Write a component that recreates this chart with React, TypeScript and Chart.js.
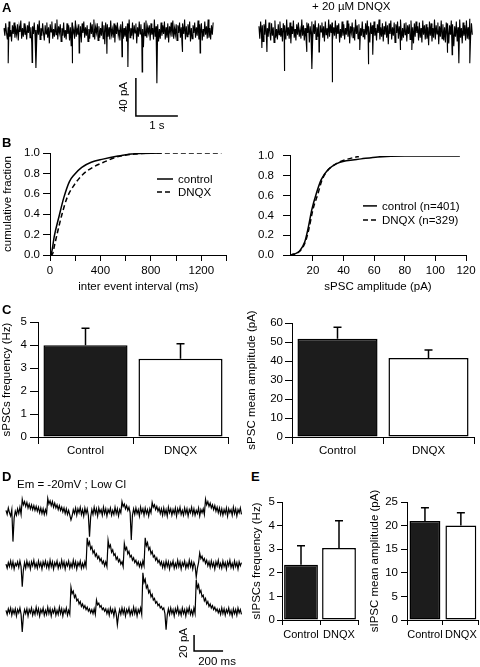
import React, { useEffect, useRef } from "react";
import { Chart, registerables } from "chart.js";

Chart.register(...registerables);

const FONT_FAMILY = '"Liberation Sans", Arial, Helvetica, sans-serif';
const FS = 11.5;
Chart.defaults.font.family = FONT_FAMILY;
Chart.defaults.color = "#000";

// ---------------- Panel A: sPSC traces (pA vs s) ----------------
const A_DT = 0.02;
const A_CONTROL_NOISE = [
  3, -5, 8, -2, -9, 4, 10, -6, 1, -11, 6, -3, 9, -7, 2, -4, 7, -10, 5, -1, 11, -8, 3, -6, 8,
  -4, 2, -9, 6, -2, 10, -7, 4, -12, 5, -3, 9, -6, 1, -8, 7, -4, 11, -9, 3, -5, 8, -2, -10, 6,
  -3, 9, -7, 4, -13, 7, -1, 10, -8, 2, -6, 8, -4, 12, -9, 5, -2, 7, -11, 3, -5, 9, -7, 1, -9,
  8, -3, 6, -10, 4, -16, 9, -5, 2, -8, 11, -6, 3, -4, 7, -9, 5, -12, 8, -2, 10, -7, 4, -5, 6,
  -11, 2, -8, 9, -3, 7, -6, 12, -9, 4, -2, 8, -10, 5, -7, 3, -5, 10, -8, 6, -14, 9, -1, 7, -6,
  4, -9, 11, -4, 2, -7, 8, -12, 6, -3, 9, -5, 1, -10, 7, -2, 10, -8, 3, -6, 5, -11, 8, -4, 12,
  -7, 3, -5, 9, -9, 6, -2, 8, -13, 4, -6, 10, -3, 7, -8, 2, -17, 9, -5, 11, -7, 4, -2, 6, -10,
  8, -4, 3, -9, 12, -6, 5, -1, 7, -11, 2, -8, 9, -5, 6, -3, 10, -9, 4, -7, 8, -12, 5, -2, 9,
  -6, 11, -8, 3, -4, 7, -10, 6, -2, 9, -7, 4, -15, 8, -3, 12, -9, 5, -6, 7, -4, 10, -11, 3, -8,
  6, -2, 9, -7, 4, -5, 11, -9, 7, -3, 8, -10, 2, -6, 10, -4, 5, -8, 12, -7, 3, -9, 6, -4, 9,
];
const A_CONTROL_EVENT_T = [0.1, 0.67, 0.76, 1.62, 1.79, 2.45, 2.81, 2.95, 3.29, 3.64, 4.24, 4.67];
const A_CONTROL_EVENT_AMP = [-34, -33, -39, -34, -23, -24, -27, -38, -43, -55, -22, -23];

const A_DNQX_START = 6.07;
const A_DNQX_NOISE = [
  5, -8, 10, -3, 6, -11, 7, -4, 12, -9, 3, -6, 9, -2, -10, 8, -5, 4, -12, 11, -7, 2, -9, 7, -4,
  10, -6, 3, -11, 8, -2, 6, -9, 12, -5, 4, -8, 9, -13, 5, -3, 11, -7, 2, -10, 7, -4, 9, -6, 1,
  -8, 12, -5, 6, -10, 3, -7, 9, -2, 8, -12, 5, -4, 10, -8, 7, -3, 11, -9, 4, -6, 8, -14, 6, -1,
  9, -7, 5, -11, 10, -4, 3, -8, 12, -6, 7, -2, 9, -10, 4, -5, 11, -8, 6, -3, 8, -12, 2, -7, 10,
  -5, 7, -9, 3, -4, 11, -6, 8, -13, 5, -2, 9, -7, 4, -10, 12, -3, 6, -8, 7, -11, 3, -5, 10, -6,
  2, -9, 8, -4, 11, -7, 5, -12, 9, -3, 6, -8, 10, -5, 3, -10, 7, -2, 12, -9, 4, -6, 8, -11, 5,
  -4, 10, -7, 6, -14, 8, -3, 11, -9, 4, -5, 9, -12, 7, -2, 10, -8, 5, -6, 12, -10, 3, -7, 8, -4,
  9, -11, 6, -3, 7, -9, 11, -5, 4, -13, 8, -6, 10, -2, 5, -10, 9, -7, 3, -12, 11, -4, 6, -9, 7,
  -8, 4, -15, 10, -5, 8, -11, 3, -7, 12, -9, 6, -3, 9, -14, 5, -6, 11, -8, 7, -10, 4, -12, 9, -5,
  8, -13, 6, -4, 11, -9, 7, -16, 5, -6, 10, -11, 4, -8, 12, -7, 3, -13, 9, -5, 6, -10, 11, -8, 4,
  -9, 13, -6, 8, -4,
];
const A_DNQX_EVENT_T = [0.07, 0.19, 0.6, 1.14, 1.26, 1.43, 1.74, 2.4, 2.6, 2.71, 3.36, 3.64, 4.48, 4.6, 4.76, 5.02];
const A_DNQX_EVENT_AMP = [-18, -22, -42, -22, -40, -22, -54, -20, -35, -25, -20, -20, -23, -25, -34, -34];

const A_SCALE_T0 = 3.14;
const A_SCALE_Y0 = -89.5;
const A_SCALE_AMP = 40; // pA
const A_SCALE_DUR = 1; // s

// ---------------- Panel B: cumulative distributions ----------------
const IEI_CONTROL_MS = [0, 12, 35, 74, 109, 154, 194, 252, 327, 420, 539, 645, 885];
const IEI_CONTROL_FRAC = [0, 0.02, 0.19, 0.39, 0.56, 0.72, 0.79, 0.86, 0.91, 0.94, 0.97, 0.99, 1.0];
const IEI_DNQX_MS = [0, 20, 35, 61, 93, 135, 194, 260, 340, 446, 526, 672, 885, 1360];
const IEI_DNQX_FRAC = [0, 0.01, 0.09, 0.23, 0.39, 0.56, 0.69, 0.79, 0.86, 0.92, 0.96, 0.99, 1.0, 1.0];
const IEI_TICKS = [0, 200, 400, 600, 800, 1000, 1200, 1400];

const AMP_CONTROL_PA = [5, 8, 11.3, 14.6, 16.7, 19.3, 22.2, 25.4, 29.8, 35.2, 41.7, 51.5, 62.4, 80, 116];
const AMP_CONTROL_FRAC = [0, 0.01, 0.04, 0.13, 0.26, 0.46, 0.62, 0.76, 0.86, 0.92, 0.95, 0.97, 0.99, 1.0, 1.0];
const AMP_DNQX_PA = [5, 8, 11.5, 15, 17.3, 20, 23.3, 26, 30, 35, 41, 47, 50];
const AMP_DNQX_FRAC = [0, 0.01, 0.04, 0.13, 0.26, 0.46, 0.62, 0.76, 0.86, 0.92, 0.96, 0.985, 0.995];
const AMP_TICKS = [20, 40, 60, 80, 100, 120];
const FRAC_TICKS = [0, 0.2, 0.4, 0.6, 0.8, 1.0];

// ---------------- Panels C and E: bar charts ----------------
const GROUPS = ["Control", "DNQX"];
const SPSC_FREQ_MEAN = [3.99, 3.4];
const SPSC_FREQ_SEM = [0.74, 0.65];
const SPSC_AMP_MEAN = [51.7, 41.6];
const SPSC_AMP_SEM = [6.1, 4.2];
const SIPSC_FREQ_MEAN = [2.34, 3.05];
const SIPSC_FREQ_SEM = [0.81, 1.16];
const SIPSC_AMP_MEAN = [21.0, 20.0];
const SIPSC_AMP_SEM = [2.8, 2.7];

// ---------------- Panel D: sIPSC traces at -20 mV ----------------
const D_DT = 0.008;
const D_TRACE_1 = [
  2, -3, 5, -1, -5, 3, -37, -8, 1, -4, 4, -2, 6, -3, 16, 9, 13,
  7, 12, 5, 10, 4, 9, 3, 8, 2, 7, 1, 6, -1, 5, -2, 4, -3,
  3, -2, 17, 10, 14, 8, 13, 6, 11, 5, 9, 3, 8, 2, 6, 0, 5,
  -2, 4, -3, 2, -4, -10, -5, 3, -2, 5, -4, 4, -1, 6, -3, 3, -5,
  5, -2, 4, -4, -31, -6, 3, -3, 6, -2, 4, -5, 5, -1, 3, -4, 6,
  -2, 4, -5, 3, -1, 5, -4, 2, -3, 6, -2, 4, -5, 3, -1, 13, 7,
  10, 4, 8, 2, 6, -1, -35, -4, 4, -3, 5, -2, 3, -5, 6, -1, 4,
  -4, 5, -2, 3, -5, 4, -1, 12, 6, 9, 3, 7, 1, 5, -2, 4, -4,
  5, -3, 3, -5, 6, -1, 4, -4, 3, -2, 5, -5, 4, -1, 6, -3, 2,
  -4, 5, -2, 4, -5, 3, -1, 6, -3, 4, -4, 2, -2, 5, -5, 3, -1,
  4, -3, 16, 9, 13, 7, 11, 5, 9, 3, 8, 1, 6, -1, 5, -3, 4,
  -4, 3, -2, 5, -5, 4, -1, 3, -4, 6, -2, 4, -5, 3, -1, 5, -3,
];
const D_TRACE_2 = [
  1, -4, 3, -2, 5, -3, 4, -5, 2, -1, 4, -3, 5, -2, -27, -6, 3,
  -4, 5, -2, 3, -5, 4, -1, 6, -3, 2, -4, 5, -2, 3, -5, 4, -1,
  5, -3, 3, -4, 6, -2, 4, -5, 3, -1, 5, -4, 2, -3, 6, -2, 4,
  -5, 3, -1, 5, -4, 2, -3, 6, -2, 4, -5, 3, -1, 5, -4, 2, -3,
  4, -2, 34, 25, 29, 20, 23, 15, 18, 11, 14, 8, 11, 5, 8, 2, 5,
  -1, 4, -2, 31, 22, 25, 16, 19, 12, 14, 7, 10, 4, 7, 1, 4, -2,
  27, 19, 22, 14, 17, 10, 12, 6, 9, 3, 6, 0, 4, -2, 3, -3, 5,
  -1, 34, 24, 28, 19, 22, 14, 17, 10, 12, 6, 9, 3, 6, 0, 4, -3,
  3, -4, 5, -2, 4, -5, 3, -1, 5, -4, 2, -3, 6, -2, 4, -5, 3,
  -1, 5, -4, 2, -3, 6, -2, 4, -5, 3, -1, -15, -4, 3, 15, 8, 11,
  5, 8, 2, 6, -1, 4, -3, 5, -2, 3, -5, 4, -1, 6, -3, 2, -4,
  5, -2, 3, -5, 4, -1, 6, -3, 2, -4, 5, -2, 3, -5, 4, -1, 3,
];
const D_TRACE_3 = [
  2, -3, 4, -1, 5, -4, 3, -2, 4, -5, 3, -1, 5, -3, -25, -5, 3,
  -2, 4, -5, 3, -1, 5, -4, 2, -3, 6, -2, 4, -5, 3, -1, 5, -4,
  2, -3, 6, -2, 4, -5, 3, -1, 5, -4, 2, -3, 6, -2, 4, -5, 3,
  -1, 5, -4, 2, -3, 31, 23, 26, 18, 21, 14, 16, 10, 13, 7, 10, 5,
  8, 3, 6, 1, 4, -1, 3, -2, 4, -3, 15, 9, 11, 6, 8, 3, 5,
  1, 4, -2, 3, -4, 5, -1, 3, -5, 4, -2, -16, -4, 3, -3, 5, -2,
  4, -5, 3, -1, 5, -4, 2, -3, 6, -2, 4, -5, 3, -1, 5, -3, 49,
  37, 41, 30, 33, 24, 27, 19, 22, 15, 17, 11, 13, 8, 10, 5, 7, 3,
  5, -2, -22, -4, 4, -3, 5, -2, 3, -5, 4, -1, 6, -3, 2, -4, 5,
  -2, 3, -5, 4, -1, 6, -3, 2, -4, 5, -2, 40, 30, 34, 24, 27, 19,
  21, 14, 17, 10, 13, 7, 10, 5, 8, 3, 6, 1, 4, -1, 3, -3, 5,
  -2, 4, -4, 3, -1, 5, -3, 2, -5, 4, -2, 3, -4, 5, -1, 3, -3,
];
const D_OFFSETS = [125, 58.75, 0];
const D_SCALE_T0 = 1.297;
const D_SCALE_Y0 = -48.75;
const D_SCALE_AMP = 20; // pA
const D_SCALE_DUR = 0.2; // s

// ---------------- helpers ----------------
type Pt = { x: number; y: number };

function buildTrace(noise: number[], dt: number, start: number, evT: number[] = [], evA: number[] = [], offset = 0): Pt[] {
  const pts: Pt[] = noise.map((v, i) => ({ x: start + i * dt, y: v + offset }));
  evT.forEach((t, k) => pts.push({ x: start + t, y: evA[k] + offset }));
  pts.sort((a, b) => a.x - b.x);
  return pts;
}

function scaleBar(t0: number, y0: number, amp: number, dur: number): Pt[] {
  return [
    { x: t0, y: y0 + amp },
    { x: t0, y: y0 },
    { x: t0 + dur, y: y0 },
  ];
}

const font = (size = FS, weight: any = "normal") => ({ family: FONT_FAMILY, size, weight });

const errorBarPlugin = {
  id: "errorBars",
  afterDatasetsDraw(chart: any) {
    const ctx = chart.ctx;
    const yScale = chart.scales.y;
    chart.data.datasets.forEach((ds: any, di: number) => {
      const errs: number[] | undefined = ds.errors;
      if (!errs) return;
      const meta = chart.getDatasetMeta(di);
      meta.data.forEach((bar: any, i: number) => {
        const v = ds.data[i];
        const top = yScale.getPixelForValue(v);
        const e = yScale.getPixelForValue(v + errs[i]);
        ctx.save();
        ctx.strokeStyle = "#000";
        ctx.lineWidth = 1.5;
        ctx.beginPath();
        ctx.moveTo(bar.x, top);
        ctx.lineTo(bar.x, e);
        ctx.moveTo(bar.x - 4, e);
        ctx.lineTo(bar.x + 4, e);
        ctx.stroke();
        ctx.restore();
      });
    });
  },
};

const inlineLegendPlugin = {
  id: "inlineLegend",
  afterDraw(chart: any, _args: any, opts: any) {
    const { ctx, chartArea } = chart;
    const x0 = chartArea.left + opts.dx;
    const y0 = chartArea.top + opts.dy;
    chart.data.datasets.forEach((ds: any, i: number) => {
      const y = y0 + i * opts.rowGap;
      ctx.save();
      ctx.strokeStyle = "#000";
      ctx.lineWidth = ds.borderWidth;
      ctx.setLineDash(ds.borderDash || []);
      ctx.beginPath();
      ctx.moveTo(x0, y);
      ctx.lineTo(x0 + opts.lineLen, y);
      ctx.stroke();
      ctx.setLineDash([]);
      ctx.fillStyle = "#000";
      ctx.font = `${FS}px ${FONT_FAMILY}`;
      ctx.textAlign = "left";
      ctx.textBaseline = "middle";
      ctx.fillText(ds.label, x0 + opts.lineLen + opts.textGap, y + 0.5);
      ctx.restore();
    });
  },
};

const traceLabelPlugin = {
  id: "traceLabels",
  afterDraw(chart: any, _args: any, opts: any) {
    const { ctx } = chart;
    const xs = chart.scales.x;
    const ys = chart.scales.y;
    (opts.items || []).forEach((it: any) => {
      const px = xs.getPixelForValue(it.x) + (it.dx || 0);
      const py = ys.getPixelForValue(it.y) + (it.dy || 0);
      ctx.save();
      ctx.translate(px, py);
      if (it.rot) ctx.rotate(it.rot);
      ctx.font = `${FS}px ${FONT_FAMILY}`;
      ctx.fillStyle = "#000";
      ctx.textAlign = "center";
      ctx.textBaseline = "middle";
      ctx.fillText(it.text, 0, 0);
      ctx.restore();
    });
  },
};

function linAxis(o: {
  pos: "left" | "bottom";
  min: number;
  max: number;
  ticks: number[];
  fmt: (v: number) => string;
  size: number;
  tickLen: number;
  pad: number;
  title?: string;
  titlePad?: number;
}) {
  return {
    type: "linear",
    position: o.pos,
    min: o.min,
    max: o.max,
    afterFit: (s: any) => {
      if (o.pos === "left") s.width = o.size;
      else s.height = o.size;
    },
    afterBuildTicks: (s: any) => {
      s.ticks = o.ticks.map((v) => ({ value: v }));
    },
    grid: { display: true, drawOnChartArea: false, drawTicks: true, tickLength: o.tickLen, color: "#000", lineWidth: 1 },
    border: { display: true, color: "#000", width: 1 },
    ticks: { color: "#000", font: font(), padding: o.pad, maxRotation: 0, autoSkip: false, callback: (v: any) => o.fmt(Number(v)) },
    title: {
      display: !!o.title,
      text: o.title || "",
      color: "#000",
      font: font(),
      padding: o.pos === "left" ? { top: o.titlePad ?? 0, bottom: 0 } : { top: 0, bottom: o.titlePad ?? 0 },
    },
  };
}

function catAxis(o: { size: number; tickLen: number; pad: number; fontSize: number }) {
  return {
    type: "category",
    position: "bottom",
    offset: true,
    afterFit: (s: any) => {
      s.height = o.size;
    },
    grid: { display: true, offset: true, drawOnChartArea: false, drawTicks: true, tickLength: o.tickLen, color: "#000", lineWidth: 1 },
    border: { display: true, color: "#000", width: 1 },
    ticks: { color: "#000", font: font(o.fontSize), padding: o.pad, maxRotation: 0, autoSkip: false },
  };
}

const BAR_FILLS = ["#1c1c1c", "#ffffff"];

function barConfig(o: {
  means: number[];
  errs: number[];
  yMax: number;
  yTicks: number[];
  yTitle: string;
  yW: number;
  xH: number;
  padTop: number;
  padRight: number;
  yTickLen: number;
  yPad: number;
  titlePad: number;
  xTickLen: number;
  xPad: number;
  xFont: number;
  barPct: number;
}) {
  return {
    type: "bar",
    data: {
      labels: GROUPS,
      datasets: [
        {
          data: o.means,
          errors: o.errs,
          backgroundColor: BAR_FILLS,
          borderColor: "#000",
          borderWidth: 1.5,
          borderSkipped: false,
          barPercentage: o.barPct,
          categoryPercentage: 1,
        },
      ],
    },
    options: {
      animation: false,
      responsive: false,
      maintainAspectRatio: false,
      layout: { padding: { top: o.padTop, right: o.padRight, left: 0, bottom: 0 } },
      plugins: { legend: { display: false }, tooltip: { enabled: false } },
      scales: {
        x: catAxis({ size: o.xH, tickLen: o.xTickLen, pad: o.xPad, fontSize: o.xFont }),
        y: linAxis({
          pos: "left",
          min: 0,
          max: o.yMax,
          ticks: o.yTicks,
          fmt: (v) => String(v),
          size: o.yW,
          tickLen: o.yTickLen,
          pad: o.yPad,
          title: o.yTitle,
          titlePad: o.titlePad,
        }),
      },
    },
    plugins: [errorBarPlugin],
  };
}

function cdfDatasets(cx: number[], cy: number[], dx: number[], dy: number[], labels: [string, string]) {
  return [
    {
      label: labels[0],
      data: cx.map((x, i) => ({ x, y: cy[i] })),
      borderColor: "#000",
      borderWidth: 1.5,
      pointRadius: 0,
      cubicInterpolationMode: "monotone",
      fill: false,
    },
    {
      label: labels[1],
      data: dx.map((x, i) => ({ x, y: dy[i] })),
      borderColor: "#000",
      borderWidth: 1.5,
      borderDash: [5, 3],
      pointRadius: 0,
      cubicInterpolationMode: "monotone",
      fill: false,
    },
  ];
}

function cdfConfig(o: {
  datasets: any[];
  xMin: number;
  xMax: number;
  xTicks: number[];
  xFmt: (v: number) => string;
  xTitle: string;
  yTitle?: string;
  yW: number;
  xH: number;
  padTop: number;
  padRight: number;
  yTickLen: number;
  yPad: number;
  yTitlePad: number;
  xTitlePad: number;
  legend: any;
}) {
  return {
    type: "line",
    data: { datasets: o.datasets },
    options: {
      animation: false,
      responsive: false,
      maintainAspectRatio: false,
      layout: { padding: { top: o.padTop, right: o.padRight, left: 0, bottom: 0 } },
      plugins: { legend: { display: false }, tooltip: { enabled: false }, inlineLegend: o.legend },
      scales: {
        x: linAxis({
          pos: "bottom",
          min: o.xMin,
          max: o.xMax,
          ticks: o.xTicks,
          fmt: o.xFmt,
          size: o.xH,
          tickLen: 6,
          pad: 3,
          title: o.xTitle,
          titlePad: o.xTitlePad,
        }),
        y: linAxis({
          pos: "left",
          min: 0,
          max: 1,
          ticks: FRAC_TICKS,
          fmt: (v) => v.toFixed(1),
          size: o.yW,
          tickLen: o.yTickLen,
          pad: o.yPad,
          title: o.yTitle,
          titlePad: o.yTitlePad,
        }),
      },
    },
    plugins: [inlineLegendPlugin],
  };
}

function traceConfig(o: { datasets: any[]; xMin: number; xMax: number; yMin: number; yMax: number; labels: any[] }) {
  return {
    type: "line",
    data: { datasets: o.datasets },
    options: {
      animation: false,
      responsive: false,
      maintainAspectRatio: false,
      layout: { padding: 0 },
      plugins: { legend: { display: false }, tooltip: { enabled: false }, traceLabels: { items: o.labels } },
      scales: {
        x: { type: "linear", display: false, min: o.xMin, max: o.xMax },
        y: { type: "linear", display: false, min: o.yMin, max: o.yMax },
      },
    },
    plugins: [traceLabelPlugin],
  };
}

const traceDs = (data: Pt[], width = 1, color = "#000") => ({
  data,
  borderColor: color,
  borderWidth: width,
  pointRadius: 0,
  tension: 0,
  fill: false,
});

// ---------------- configs ----------------
function makeA() {
  return traceConfig({
    datasets: [
      traceDs(buildTrace(A_CONTROL_NOISE, A_DT, 0, A_CONTROL_EVENT_T, A_CONTROL_EVENT_AMP), 1.1, "#000"),
      traceDs(buildTrace(A_DNQX_NOISE, A_DT, A_DNQX_START, A_DNQX_EVENT_T, A_DNQX_EVENT_AMP), 1.1, "#000"),
      traceDs(scaleBar(A_SCALE_T0, A_SCALE_Y0, A_SCALE_AMP, A_SCALE_DUR), 1.5),
    ],
    xMin: -4 / 42,
    xMax: -4 / 42 + 480 / 42,
    yMin: 31 / 0.95 - 135 / 0.95,
    yMax: 31 / 0.95,
    labels: [
      { text: `${A_SCALE_AMP} pA`, x: A_SCALE_T0, y: A_SCALE_Y0 + A_SCALE_AMP / 2, dx: -12, dy: 0, rot: -Math.PI / 2 },
      { text: `${A_SCALE_DUR} s`, x: A_SCALE_T0 + A_SCALE_DUR / 2, y: A_SCALE_Y0, dx: 0, dy: 10 },
    ],
  });
}

function makeD() {
  const traces = [D_TRACE_1, D_TRACE_2, D_TRACE_3];
  return traceConfig({
    datasets: [
      ...traces.map((t, k) => traceDs(buildTrace(t, D_DT, 0, [], [], D_OFFSETS[k]), 1.2, "#000")),
      traceDs(scaleBar(D_SCALE_T0, D_SCALE_Y0, D_SCALE_AMP, D_SCALE_DUR), 1.5),
    ],
    xMin: -6 / 145,
    xMax: -6 / 145 + 250 / 145,
    yMin: 127 / 0.8 - 182 / 0.8,
    yMax: 127 / 0.8,
    labels: [
      { text: `${D_SCALE_AMP} pA`, x: D_SCALE_T0, y: D_SCALE_Y0 + D_SCALE_AMP / 2, dx: -10, dy: 0, rot: -Math.PI / 2 },
      { text: `${Math.round(D_SCALE_DUR * 1000)} ms`, x: D_SCALE_T0 + D_SCALE_DUR / 2, y: D_SCALE_Y0, dx: 8.5, dy: 11 },
    ],
  });
}

function makeBLeft() {
  return cdfConfig({
    datasets: cdfDatasets(IEI_CONTROL_MS, IEI_CONTROL_FRAC, IEI_DNQX_MS, IEI_DNQX_FRAC, ["control", "DNQX"]),
    xMin: 0,
    xMax: 1400,
    xTicks: IEI_TICKS,
    xFmt: (v) => (v % 400 === 0 && v < 1400 ? String(v) : ""),
    xTitle: "inter event interval (ms)",
    yTitle: "cumulative fraction",
    yW: 50,
    xH: 45,
    padTop: 13,
    padRight: 13.5,
    yTickLen: 7,
    yPad: 3,
    yTitlePad: 1,
    xTitlePad: 6,
    legend: { dx: 107, dy: 26, rowGap: 13, lineLen: 16, textGap: 5 },
  });
}

function makeBRight() {
  return cdfConfig({
    datasets: cdfDatasets(AMP_CONTROL_PA, AMP_CONTROL_FRAC, AMP_DNQX_PA, AMP_DNQX_FRAC, ["control (n=401)", "DNQX (n=329)"]),
    xMin: 5,
    xMax: 120,
    xTicks: AMP_TICKS,
    xFmt: (v) => String(v),
    xTitle: "sPSC amplitude (pA)",
    yW: 50,
    xH: 45,
    padTop: 15,
    padRight: 14,
    yTickLen: 7,
    yPad: 9,
    yTitlePad: 0,
    xTitlePad: 6,
    legend: { dx: 73, dy: 50, rowGap: 14, lineLen: 14, textGap: 5 },
  });
}

const makeCLeft = () =>
  barConfig({
    means: SPSC_FREQ_MEAN,
    errs: SPSC_FREQ_SEM,
    yMax: 5,
    yTicks: [0, 1, 2, 3, 4, 5],
    yTitle: "sPSCs frequency (Hz)",
    yW: 38,
    xH: 23,
    padTop: 22,
    padRight: 12,
    yTickLen: 8,
    yPad: 3,
    titlePad: 0,
    xTickLen: 7,
    xPad: 0,
    xFont: FS,
    barPct: 0.885,
  });

const makeCRight = () =>
  barConfig({
    means: SPSC_AMP_MEAN,
    errs: SPSC_AMP_SEM,
    yMax: 60,
    yTicks: [0, 10, 20, 30, 40, 50, 60],
    yTitle: "sPSC mean amplitude (pA)",
    yW: 52,
    xH: 23,
    padTop: 23,
    padRight: 6,
    yTickLen: 7,
    yPad: 2,
    titlePad: 5,
    xTickLen: 7,
    xPad: 0,
    xFont: FS,
    barPct: 0.88,
  });

const makeELeft = () =>
  barConfig({
    means: SIPSC_FREQ_MEAN,
    errs: SIPSC_FREQ_SEM,
    yMax: 5,
    yTicks: [0, 1, 2, 3, 4, 5],
    yTitle: "sIPSCs frequency (Hz)",
    yW: 32,
    xH: 30,
    padTop: 12,
    padRight: 7,
    yTickLen: 5,
    yPad: 2,
    titlePad: 0,
    xTickLen: 5,
    xPad: 3,
    xFont: 11,
    barPct: 0.89,
  });

const makeERight = () =>
  barConfig({
    means: SIPSC_AMP_MEAN,
    errs: SIPSC_AMP_SEM,
    yMax: 25,
    yTicks: [0, 5, 10, 15, 20, 25],
    yTitle: "sIPSC mean amplitude (pA)",
    yW: 42,
    xH: 30,
    padTop: 12,
    padRight: 1,
    yTickLen: 6,
    yPad: 3,
    titlePad: 3,
    xTickLen: 5,
    xPad: 3,
    xFont: 11,
    barPct: 0.86,
  });

// ---------------- components ----------------
type Box = { x: number; y: number; w: number; h: number };

function ChartCanvas({ box, make }: { box: Box; make: () => any }) {
  const ref = useRef<HTMLCanvasElement>(null);
  useEffect(() => {
    if (!ref.current) return;
    const chart = new Chart(ref.current, make());
    return () => chart.destroy();
  }, []);
  return (
    <canvas
      ref={ref}
      width={box.w}
      height={box.h}
      style={{ position: "absolute", left: box.x, top: box.y, width: box.w, height: box.h }}
    />
  );
}

function Label({ text, x, capTop, size = FS, bold = false }: { text: string; x: number; capTop: number; size?: number; bold?: boolean }) {
  return (
    <div
      style={{
        position: "absolute",
        left: x,
        top: capTop - 0.13 * size,
        fontFamily: FONT_FAMILY,
        fontSize: size,
        fontWeight: bold ? 700 : 400,
        lineHeight: `${size}px`,
        whiteSpace: "nowrap",
        color: "#000",
      }}
    >
      {text}
    </div>
  );
}

export default function App() {
  return (
    <div
      style={{
        position: "fixed",
        left: 0,
        top: 0,
        width: 480,
        height: 667,
        background: "#fff",
        overflow: "hidden",
      }}
    >
      <ChartCanvas box={{ x: 0, y: 0, w: 480, h: 135 }} make={makeA} />
      <ChartCanvas box={{ x: 0, y: 140, w: 240, h: 160 }} make={makeBLeft} />
      <ChartCanvas box={{ x: 240, y: 140, w: 240, h: 160 }} make={makeBRight} />
      <ChartCanvas box={{ x: 0, y: 300, w: 240, h: 160 }} make={makeCLeft} />
      <ChartCanvas box={{ x: 240, y: 300, w: 240, h: 160 }} make={makeCRight} />
      <ChartCanvas box={{ x: 0, y: 485, w: 250, h: 182 }} make={makeD} />
      <ChartCanvas box={{ x: 250, y: 490, w: 115, h: 160 }} make={makeELeft} />
      <ChartCanvas box={{ x: 365, y: 490, w: 115, h: 160 }} make={makeERight} />

      <Label text="A" x={2} capTop={3} size={13} bold />
      <Label text="B" x={2} capTop={138} size={13} bold />
      <Label text="C" x={2} capTop={305} size={13} bold />
      <Label text="D" x={2} capTop={472} size={13} bold />
      <Label text="E" x={251} capTop={472} size={13} bold />
      <Label text="+ 20 µM DNQX" x={312} capTop={2} />
      <Label text="Em = -20mV ; Low Cl" x={17} capTop={480} />
    </div>
  );
}
